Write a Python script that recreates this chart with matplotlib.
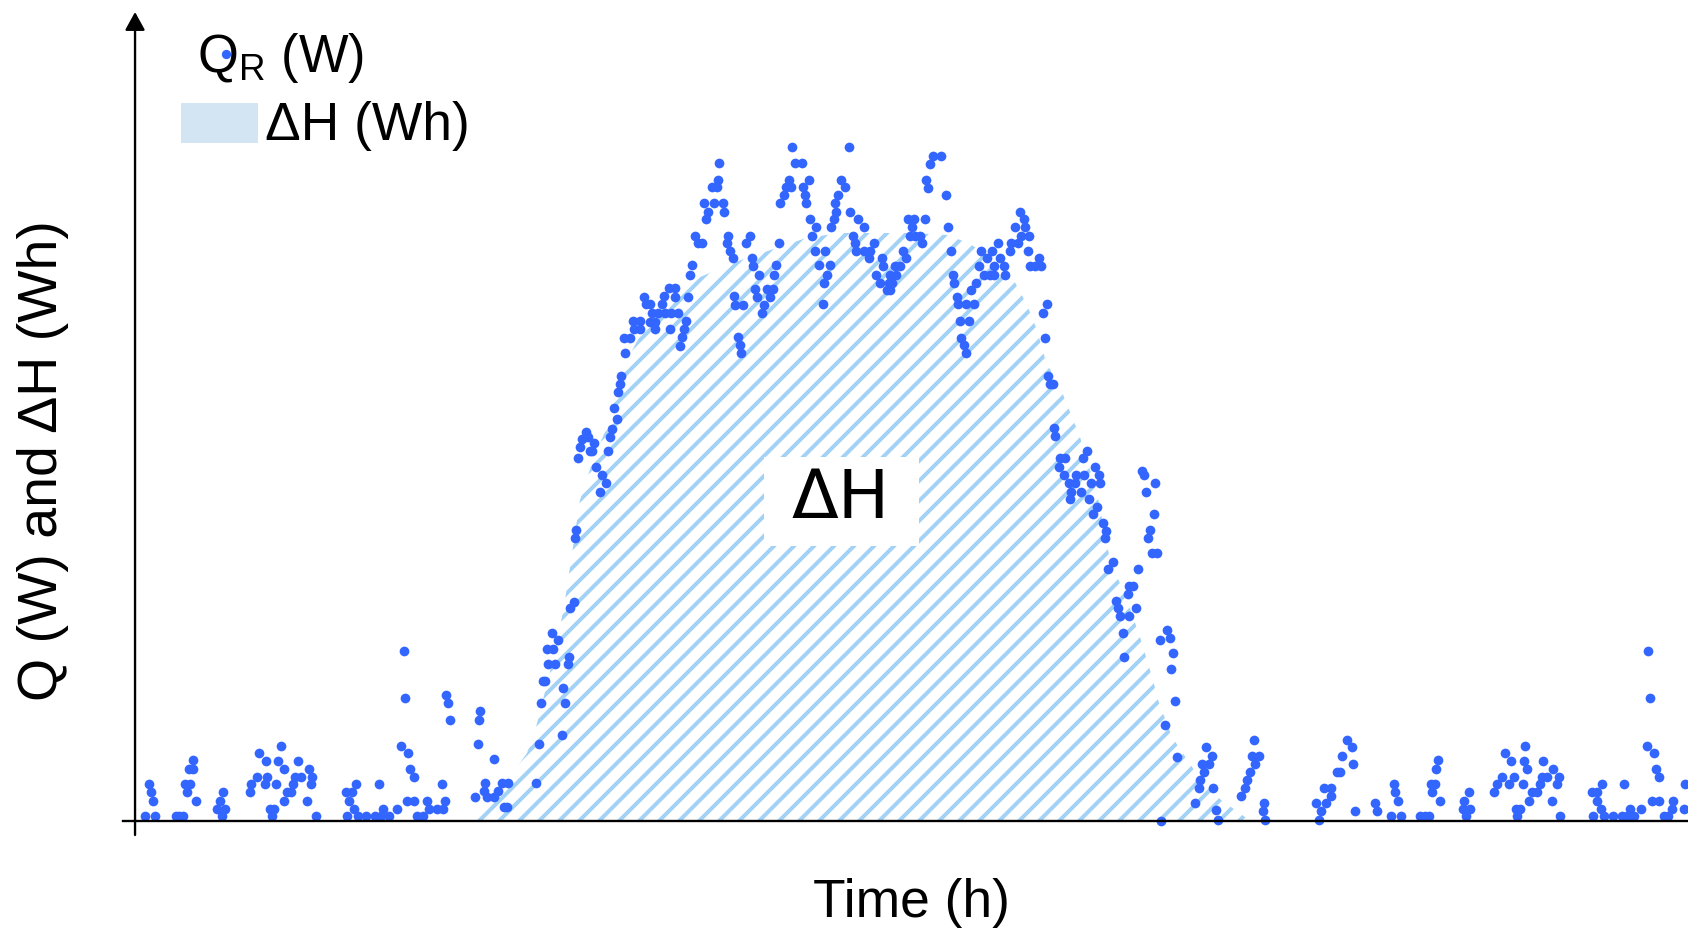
import matplotlib
matplotlib.use('Agg')
import matplotlib.pyplot as plt
import numpy as np
from matplotlib.patches import Rectangle

# Q_R samples: (time in h, heat flow in W)
qr_points = [
    (0.20, 5), (0.28, 37), (0.31, 29), (0.36, 20), (0.40, 5), (0.81, 5), (0.88, 5), (0.96, 5),
    (1.00, 37), (1.04, 29), (1.08, 52), (1.15, 61), (1.16, 52), (1.10, 37), (1.21, 20),
    (1.63, 12), (1.70, 20), (1.73, 5), (1.76, 29), (1.80, 12),
    (2.30, 29), (2.32, 37), (2.44, 44), (2.48, 68), (2.59, 37), (2.64, 44), (2.61, 60),
    (2.70, 12), (2.74, 5), (2.78, 12), (2.82, 37), (2.86, 60), (2.91, 75), (2.97, 52),
    (2.97, 20), (3.04, 29), (3.12, 29), (3.16, 37), (3.20, 44), (3.26, 60), (3.32, 44),
    (3.43, 20), (3.47, 52), (3.51, 37), (3.54, 44), (3.61, 5),
    (4.24, 5), (4.22, 29), (4.28, 20), (4.33, 29), (4.37, 12), (4.42, 37), (4.46, 5),
    (4.62, 5), (4.80, 5), (4.92, 5), (5.08, 5), (4.88, 37), (4.96, 12),
    (5.23, 12), (5.32, 75), (5.37, 170), (5.40, 123), (5.46, 68), (5.50, 52), (5.58, 44),
    (5.44, 20), (5.58, 20), (5.63, 5), (5.75, 5), (5.83, 20), (5.87, 12), (6.04, 12),
    (6.15, 12), (6.14, 37), (6.19, 20), (6.21, 126), (6.26, 118), (6.30, 101),
    (6.80, 24), (6.85, 77), (6.88, 101), (6.90, 110), (6.99, 38), (6.98, 30), (7.03, 24),
    (7.17, 62), (7.17, 24), (7.26, 30), (7.34, 38), (7.38, 14), (7.45, 38), (7.43, 14),
    (8.01, 38), (8.07, 77), (8.12, 118), (8.16, 140), (8.20, 140), (8.25, 157), (8.24, 172),
    (8.33, 188), (8.35, 172), (8.39, 157), (8.45, 181), (8.53, 86), (8.56, 133), (8.60, 118),
    (8.65, 157), (8.68, 164), (8.70, 213), (8.77, 219), (8.79, 283), (8.82, 291),
    (8.85, 363), (8.90, 374), (8.94, 382), (9.02, 389), (9.05, 384), (9.09, 370), (9.14, 370),
    (9.17, 378), (9.21, 354), (9.29, 329), (9.33, 346), (9.41, 338), (9.45, 370), (9.49, 384),
    (9.54, 392), (9.57, 413), (9.63, 402), (9.65, 429), (9.69, 437), (9.72, 445),
    (9.80, 468), (9.78, 483), (9.90, 483), (9.97, 492), (10.10, 492), (9.95, 500), (10.09, 500),
    (10.18, 524), (10.22, 517), (10.30, 517), (10.33, 508), (10.30, 499), (10.40, 499),
    (10.40, 492), (10.45, 508), (10.53, 517), (10.58, 525), (10.67, 533), (10.80, 533),
    (10.80, 524), (10.60, 508), (10.72, 508), (10.85, 508), (10.70, 492), (11.02, 500),
    (10.97, 492), (10.93, 484), (10.89, 475), (11.05, 524), (11.09, 546), (11.14, 556),
    (11.20, 585), (11.25, 578), (11.34, 578), (11.38, 618), (11.45, 609), (11.42, 602),
    (11.53, 634), (11.63, 634), (11.65, 641), (11.68, 658), (11.58, 618), (11.75, 618),
    (11.78, 609), (11.85, 585), (11.83, 578), (11.90, 570), (11.95, 563),
    (12.30, 585), (12.22, 578), (12.33, 563), (12.35, 555), (12.47, 546), (12.40, 532),
    (12.43, 524), (11.98, 525), (12.00, 516), (12.15, 516), (12.05, 484), (12.09, 476),
    (12.12, 468), (12.58, 516), (12.53, 508), (12.63, 532), (12.75, 532), (12.70, 524),
    (12.78, 546), (12.82, 556), (12.87, 578), (12.90, 618), (12.98, 626), (13.02, 634),
    (13.11, 634), (13.07, 641), (13.13, 674), (13.19, 658), (13.33, 658), (13.48, 641),
    (13.35, 634), (13.39, 626), (13.42, 618), (13.50, 602), (13.62, 594), (13.53, 585),
    (13.60, 570), (13.67, 556), (13.80, 570), (13.89, 556), (13.83, 546), (13.78, 538),
    (13.75, 517), (13.92, 594), (13.97, 602), (14.02, 609), (14.00, 618), (14.05, 626),
    (14.12, 641), (14.20, 634), (14.27, 674), (14.30, 609), (14.45, 602), (14.35, 585),
    (14.40, 578), (14.42, 570),
    (14.57, 594), (14.57, 570), (14.70, 570), (14.78, 578), (14.67, 563), (14.93, 563),
    (14.95, 555), (14.82, 546), (14.90, 538), (15.03, 531), (15.10, 531), (15.07, 538),
    (15.13, 538), (15.09, 546), (15.20, 555), (15.30, 555), (15.22, 546), (15.35, 570),
    (15.42, 563), (15.45, 602), (15.57, 602), (15.53, 594), (15.49, 585), (15.60, 585),
    (15.70, 585), (15.73, 578), (15.80, 602), (15.82, 641), (15.85, 633), (15.89, 657),
    (15.95, 665), (16.11, 665), (16.21, 626), (16.25, 594), (16.31, 570), (16.35, 546),
    (16.38, 538), (16.43, 524), (16.45, 517), (16.62, 517), (16.77, 517), (16.72, 531),
    (16.81, 538), (16.87, 555), (16.92, 570), (16.97, 546), (17.10, 546), (17.17, 546),
    (17.03, 563), (17.13, 570), (17.18, 555), (17.25, 578), (17.30, 563), (17.37, 555),
    (17.40, 546), (16.49, 500), (16.67, 500), (16.52, 483), (16.57, 476), (16.61, 468),
    (17.49, 570), (17.52, 578), (17.60, 594), (17.65, 578), (17.71, 585), (17.70, 609),
    (17.77, 602), (17.80, 594), (17.88, 585), (17.85, 570), (18.07, 563), (17.90, 555),
    (18.00, 555), (18.11, 555), (18.23, 517), (18.15, 508), (18.20, 483),
    (18.25, 445), (18.30, 437), (18.35, 437), (18.37, 393), (18.40, 385), (18.49, 363),
    (18.60, 363), (18.47, 354), (18.57, 346), (18.67, 338), (18.80, 338), (18.82, 346),
    (18.98, 346), (18.71, 329), (18.69, 322), (18.92, 329), (18.95, 363), (19.03, 370),
    (19.12, 338), (19.19, 354), (19.27, 346), (19.30, 338), (19.07, 322), (19.24, 314),
    (19.15, 307), (19.35, 298), (19.41, 290), (19.39, 283), (19.55, 259), (19.45, 252),
    (20.05, 252), (20.13, 350), (20.17, 346), (20.40, 338), (20.22, 329), (20.37, 307),
    (20.29, 291), (20.25, 283), (20.33, 268), (20.43, 268), (19.95, 235), (19.88, 235),
    (19.85, 227), (19.61, 220), (19.65, 213), (19.70, 205), (19.87, 205), (20.02, 213),
    (19.75, 188), (19.77, 164), (20.63, 191), (20.69, 183), (20.49, 181), (20.75, 168),
    (20.71, 152), (20.80, 120), (20.60, 96), (20.83, 64), (20.51, 0),
    (21.20, 18), (21.27, 33), (21.29, 41), (21.38, 49), (21.33, 57), (21.47, 57),
    (21.53, 65), (21.42, 74), (21.55, 33), (21.62, 11), (21.65, 1),
    (22.12, 25), (22.19, 33), (22.23, 41), (22.30, 49), (22.34, 65), (22.39, 57),
    (22.47, 65), (22.37, 81), (22.57, 18), (22.55, 10), (22.60, 1),
    (23.61, 18), (23.71, 10), (23.67, 1), (23.81, 18), (23.78, 33), (23.91, 33), (23.91, 25),
    (24.04, 49), (24.09, 49), (24.14, 65), (24.24, 81), (24.34, 74), (24.36, 57), (24.39, 10),
    (24.79, 18), (24.83, 10), (25.12, 5), (25.18, 37), (25.20, 29), (25.26, 20), (25.31, 5),
    (25.69, 5), (25.79, 5), (25.87, 5), (25.91, 37), (25.93, 29), (26.01, 52), (26.05, 61),
    (25.99, 37), (26.09, 20), (26.58, 20), (26.56, 12), (26.62, 5), (26.68, 29), (26.70, 12),
    (27.17, 29), (27.23, 37), (27.33, 44), (27.40, 68), (27.47, 37), (27.52, 60), (27.58, 44),
    (27.62, 12), (27.64, 5), (27.70, 12), (27.75, 37), (27.80, 75), (27.78, 60), (27.84, 52),
    (27.87, 20), (27.94, 29), (28.04, 29), (28.09, 37), (28.13, 44), (28.15, 60), (28.23, 44),
    (28.33, 20), (28.36, 52), (28.43, 37), (28.47, 44), (28.50, 5),
    (29.16, 5), (29.14, 29), (29.23, 29), (29.24, 20), (29.32, 12), (29.34, 37), (29.38, 5),
    (29.55, 5), (29.73, 5), (29.84, 5), (29.98, 5), (29.77, 37), (29.89, 12),
    (30.12, 12), (30.24, 75), (30.26, 170), (30.29, 123), (30.38, 68), (30.42, 52),
    (30.48, 44), (30.33, 20), (30.47, 20), (30.57, 5), (30.65, 5), (30.75, 20), (30.73, 12),
    (30.99, 37), (30.98, 12),
]

# ΔH envelope (time in h, Wh)
dh_t = [6.68, 6.88, 7.18, 7.42, 7.64, 7.84, 8.02, 8.26, 8.48, 8.60, 8.72, 8.90, 9.16,
        9.44, 9.64, 9.84, 10.30, 11.30, 12.12, 13.42, 14.10, 15.56, 16.26, 16.70, 16.98,
        17.50, 17.84, 18.04, 18.22, 18.50, 18.90, 19.24, 19.50, 19.84, 20.10, 20.36,
        20.46, 20.74, 21.22, 21.72, 22.20, 22.54]
dh_wh = [0, 8, 21, 34, 54, 68, 94, 141, 188, 221, 261, 321, 361,
         394, 428, 461, 504, 544, 561, 583, 588, 588, 586, 577, 568,
         548, 516, 491, 459, 434, 384, 328, 261, 221, 184, 141,
         121, 84, 48, 21, 4, 0]

t_h, q_w = np.array(qr_points).T

plt.rcParams['font.family'] = ['Liberation Sans', 'DejaVu Sans']
plt.rcParams['hatch.linewidth'] = 2.4

blue = '#3366ff'
hatch_blue = '#a3d2f7'

fig = plt.figure(figsize=(1688 / 120, 932 / 120), dpi=120)
ax = fig.add_axes([0.0800, 0.1191, 0.9200, 0.8680])
ax.set_xlim(0, 31.06)
ax.set_ylim(0, 809)
ax.axis('off')

# hatched area for ΔH
ax.fill_between(dh_t, 0, dh_wh, facecolor='white', edgecolor=hatch_blue,
                hatch='//', linewidth=0, zorder=1)

# label box in the middle of the area
ax.add_patch(Rectangle((0.405, 0.340), 0.0998, 0.110, transform=ax.transAxes,
                       facecolor='white', edgecolor='none', zorder=2))
ax.text(0.4546, 0.398, 'ΔH', transform=ax.transAxes, ha='center', va='center',
        fontsize=41, family='DejaVu Sans', zorder=3)

ax.scatter(t_h, q_w, s=34, color=blue, linewidths=0, zorder=4, clip_on=False)

# axes drawn by hand: arrow on y, plain line on x
ax.annotate('', xy=(0, 1), xytext=(0, -0.0173), xycoords='axes fraction',
            arrowprops=dict(arrowstyle='-|>,head_length=0.4,head_width=0.22',
                            color='black', lw=1.4, mutation_scale=23,
                            shrinkA=0, shrinkB=0))
ax.plot([-0.0077, 1.0], [0, 0], transform=ax.transAxes, color='black', lw=1.4,
        clip_on=False, zorder=5)

fig.text(0.540, 0.0161, 'Time (h)', ha='center', va='baseline', fontsize=32)
fig.text(0.0255, 0.5060, 'Q (W) and ΔH (Wh)', rotation=90, ha='center', va='center',
         fontsize=33.3)

# legend
fig.text(0.1167, 0.9227, r'Q$_\mathregular{R}$ (W)', ha='left', va='baseline', fontsize=31.5)
fig.text(0.1570, 0.8498, 'ΔH (Wh)', ha='left', va='baseline', fontsize=32)
fig.patches.append(Rectangle((0.1072, 0.8466), 0.0456, 0.0429, transform=fig.transFigure,
                             facecolor='#d3e4f3', edgecolor='none'))
ax.plot([0.1339], [0.9421], 'o', color=blue, markersize=5.6, markeredgewidth=0,
        transform=fig.transFigure, clip_on=False)

fig.savefig('out.png', dpi=120)
